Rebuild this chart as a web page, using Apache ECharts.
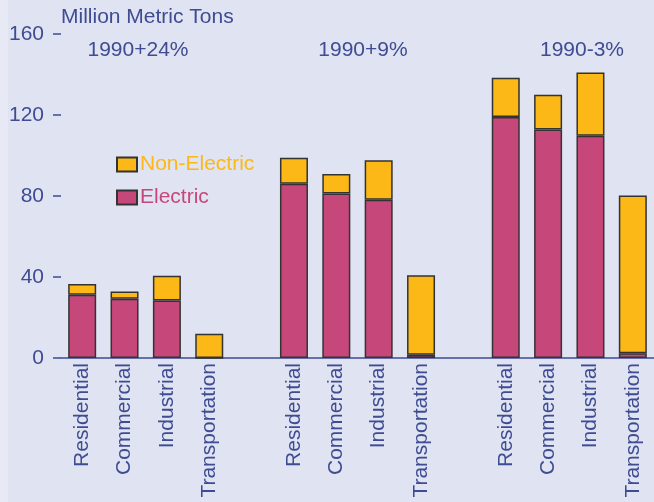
<!DOCTYPE html>
<html>
<head>
<meta charset="utf-8">
<script src="https://cdn.jsdelivr.net/npm/echarts@6/dist/echarts.min.js"></script>
<style>
html,body{margin:0;padding:0;background:#dfe3f2;}
#chart{width:654px;height:502px;}
</style>
</head>
<body>
<div id="chart"></div>
<script>
// Categories (blank slots separate the three scenario groups)
const categories = ['Residential','Commercial','Industrial','Transportation','',
                    'Residential','Commercial','Industrial','Transportation','',
                    'Residential','Commercial','Industrial','Transportation'];
const electric    = [31.2, 29.2, 28.4, 0, '-', 86.1, 81.2, 78.2, 1.6, '-', 119.0, 112.9, 109.8, 2.3];
const nonElectric = [5.3, 3.6, 12.2, 12.0, '-', 12.8, 9.7, 19.4, 39.3, '-', 19.4, 17.1, 31.2, 77.9];
const groupLabels = ['1990+24%', '1990+9%', '1990-3%'];
const yTicks = [0, 40, 80, 120, 160];

const FONT = 'Liberation Sans, Arial, sans-serif';
const BLUE = '#3f4c92';
const MAGENTA = '#c6487b';
const ORANGE = '#fcb816';

const chart = echarts.init(document.getElementById('chart'));
chart.setOption({
  backgroundColor: '#dfe3f2',
  animation: false,
  grid: {left: 61, right: 0, top: 34, bottom: 144},
  legend: {
    orient: 'vertical',
    left: 116, top: 154,
    padding: 0,
    itemWidth: 20, itemHeight: 14,
    itemGap: 12,
    textStyle: {fontSize: 21, fontFamily: FONT, padding: [0, 0, 0, -2]},
    data: [
      {name: 'Non-Electric', icon: 'rect', textStyle: {color: ORANGE}},
      {name: 'Electric', icon: 'rect', textStyle: {color: MAGENTA}}
    ]
  },
  xAxis: {
    type: 'category',
    data: categories,
    axisLine: {lineStyle: {color: BLUE, width: 1.5}},
    axisTick: {show: false},
    axisLabel: {rotate: 90, fontSize: 21, fontFamily: FONT, color: BLUE, margin: 5, interval: 0}
  },
  yAxis: {
    type: 'value',
    min: yTicks[0], max: yTicks[yTicks.length - 1], interval: 40,
    axisLine: {show: false},
    axisTick: {show: true, length: 8, lineStyle: {color: BLUE, width: 1.5}},
    splitLine: {show: false},
    axisLabel: {fontSize: 21, fontFamily: FONT, color: BLUE, margin: 17}
  },
  series: [
    {
      name: 'Electric', type: 'bar', stack: 'total', barWidth: 28,
      data: electric,
      itemStyle: {color: MAGENTA, borderColor: '#333', borderWidth: 1.5}
    },
    {
      name: 'Non-Electric', type: 'bar', stack: 'total', barWidth: 28,
      data: nonElectric,
      itemStyle: {color: ORANGE, borderColor: '#333', borderWidth: 1.5}
    }
  ],
  graphic: [
    {type: 'rect', left: 0, top: 0, z: -10, shape: {width: 8, height: 502}, style: {fill: '#e7e9f5'}},
    {type: 'text', left: 61, top: 7, style: {text: 'Million Metric Tons', fontSize: 21, fontFamily: FONT, fill: BLUE}},
    {type: 'text', x: 138, y: 50, style: {text: groupLabels[0], fontSize: 21, fontFamily: FONT, fill: BLUE, textAlign: 'center', textVerticalAlign: 'middle'}},
    {type: 'text', x: 363, y: 50, style: {text: groupLabels[1], fontSize: 21, fontFamily: FONT, fill: BLUE, textAlign: 'center', textVerticalAlign: 'middle'}},
    {type: 'text', x: 582, y: 50, style: {text: groupLabels[2], fontSize: 21, fontFamily: FONT, fill: BLUE, textAlign: 'center', textVerticalAlign: 'middle'}}
  ]
});
</script>
</body>
</html>
